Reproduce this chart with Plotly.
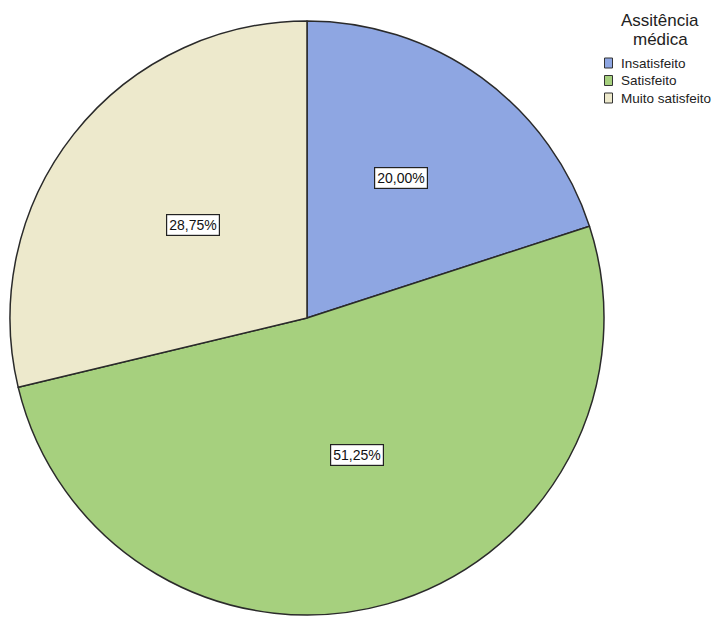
import math
import plotly.graph_objects as go

categories = ["Insatisfeito", "Satisfeito", "Muito satisfeito"]
percentages = [20.00, 51.25, 28.75]
colors = ["#8EA6E2", "#A6D07E", "#EDE9CC"]
label_texts = ["20,00%", "51,25%", "28,75%"]
legend_title_lines = ["Assitência", "médica"]

# label placement style (radial fraction of radius, angular nudge in degrees)
label_radius = [0.568, 0.49, 0.494]
label_nudge = [-2.1, -4.4, 1.0]

W, H = 718, 621
cx_px, cy_px, R = 307, 318, 297
dom_x = [(cx_px - R) / W, (cx_px + R) / W]
dom_y = [(H - cy_px - R) / H, (H - cy_px + R) / H]
FONT = "Liberation Sans, Arial, sans-serif"

fig = go.Figure(go.Pie(
    labels=categories,
    values=percentages,
    marker=dict(colors=colors, line=dict(color="#2a2a2a", width=1.5)),
    sort=False,
    direction="clockwise",
    rotation=0,
    textinfo="none",
    hoverinfo="label+percent",
    domain=dict(x=dom_x, y=dom_y),
    showlegend=False,
))

# boxed percentage labels placed from the data angles
total = sum(percentages)
cum = 0
annotations = []
for v, t, rf, nd in zip(percentages, label_texts, label_radius, label_nudge):
    mid = (cum + v / 2) / total * 2 * math.pi + math.radians(nd)
    cum += v
    r = rf * R
    x = (cx_px + r * math.sin(mid)) / W
    y = (H - cy_px + r * math.cos(mid)) / H
    annotations.append(dict(
        x=x, y=y, xref="paper", yref="paper", xanchor="center", yanchor="middle",
        text=t, showarrow=False,
        font=dict(family=FONT, size=14, color="#111"),
        bgcolor="white", bordercolor="#222", borderwidth=1.2, borderpad=2,
    ))

# manual legend (title + swatches + labels)
for i, line in enumerate(legend_title_lines):
    annotations.append(dict(
        x=660 / W, y=1 - (20 + i * 19) / H, xref="paper", yref="paper",
        xanchor="center", yanchor="middle",
        text=line, showarrow=False,
        font=dict(family=FONT, size=17, color="#222"),
    ))
shapes = []
row_y0 = 63
row_step = 17.5
for i, (c, name) in enumerate(zip(colors, categories)):
    yc = row_y0 + i * row_step
    shapes.append(dict(
        type="rect", xref="paper", yref="paper",
        x0=604.5 / W, x1=612.5 / W, y0=1 - (yc - 5) / H, y1=1 - (yc + 5) / H,
        fillcolor=c, line=dict(color="#333", width=1),
    ))
    annotations.append(dict(
        x=619 / W, y=1 - yc / H, xref="paper", yref="paper", xanchor="left", yanchor="middle",
        text=name, showarrow=False,
        font=dict(family=FONT, size=13.5, color="#222"),
    ))

fig.update_layout(
    width=W, height=H,
    margin=dict(l=0, r=0, t=0, b=0),
    paper_bgcolor="white",
    annotations=annotations,
    shapes=shapes,
    showlegend=False,
    font=dict(family=FONT),
)

fig.write_html("out.html")
